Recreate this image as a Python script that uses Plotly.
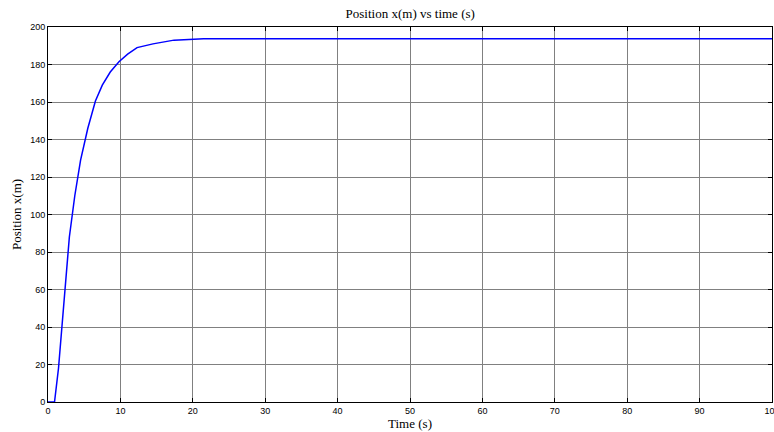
import plotly.graph_objects as go

time_s = [0, 0.9, 1.45, 2.25, 2.95, 3.7, 4.5, 5.5, 6.55, 7.5, 8.6, 9.8, 11, 12.3, 14.5, 17.4, 21.5, 100]
position_m = [0, 0, 18, 53, 88, 110, 129, 146, 160.5, 169, 176, 181.5, 185.5, 189, 191, 193, 193.8, 193.8]

x_ticks = list(range(0, 101, 10))
y_ticks = list(range(0, 201, 20))

serif = "Liberation Serif, Times New Roman, serif"

fig = go.Figure()
fig.add_trace(go.Scatter(x=time_s, y=position_m, mode="lines",
                         line=dict(color="#0000ff", width=1.5), showlegend=False))

axis_common = dict(
    showline=True, linecolor="black", linewidth=1, mirror="ticks",
    ticks="inside", ticklen=4, tickcolor="black", tickwidth=1,
    showgrid=True, gridcolor="#808080", gridwidth=1,
    zeroline=False, ticklabeloverflow="allow", automargin=False,
    tickfont=dict(family="Liberation Sans, Arial, sans-serif", size=9, color="black"),
)

fig.update_layout(
    width=774, height=432,
    margin=dict(l=48, r=2, t=27, b=30, autoexpand=False),
    paper_bgcolor="white", plot_bgcolor="white",
    title=dict(text="Position x(m) vs time (s)", x=0.53, xanchor="center", y=0.968, yanchor="middle",
               font=dict(family=serif, size=13, color="black")),
    xaxis=dict(range=[0, 100], tickvals=x_ticks, ticktext=[str(v) for v in x_ticks],
               title=dict(text="Time (s)", standoff=1,
                          font=dict(family=serif, size=13, color="black")),
               **axis_common),
    yaxis=dict(range=[0, 200], tickvals=y_ticks, ticktext=[str(v) for v in y_ticks],
               title=dict(text="Position x(m)", standoff=5,
                          font=dict(family=serif, size=13, color="black")),
               **axis_common),
)

fig.write_html("out.html")
